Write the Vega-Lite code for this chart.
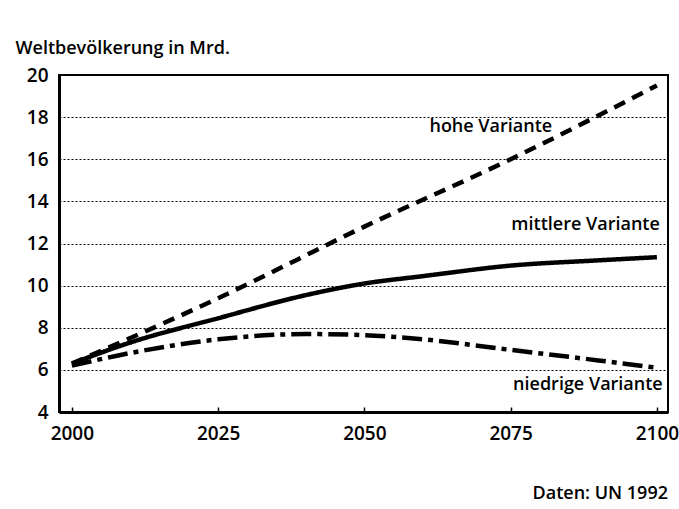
{
  "$schema": "https://vega.github.io/schema/vega-lite/v6.json",
  "width": 609,
  "height": 337,
  "autosize": {"type": "none"},
  "padding": {"left": 59, "top": 75, "right": 11, "bottom": 97},
  "background": "white",
  "config": {
    "font": "Open Sans",
    "view": {"stroke": "black", "strokeWidth": 2},
    "axis": {"labelFont": "Open Sans", "labelFontWeight": 600, "labelFontSize": 19, "labelColor": "black", "domainColor": "black", "domainWidth": 3, "tickColor": "black"}
  },
  "datasets": {
    "lines": [
      {"jahr": 2000, "wert": 6.3, "variante": "hoch"},
      {"jahr": 2025, "wert": 9.4, "variante": "hoch"},
      {"jahr": 2050, "wert": 12.8, "variante": "hoch"},
      {"jahr": 2075, "wert": 16.0, "variante": "hoch"},
      {"jahr": 2100, "wert": 19.5, "variante": "hoch"},
      {"jahr": 2000, "wert": 6.3, "variante": "mittel"},
      {"jahr": 2010, "wert": 7.3, "variante": "mittel"},
      {"jahr": 2025, "wert": 8.45, "variante": "mittel"},
      {"jahr": 2040, "wert": 9.55, "variante": "mittel"},
      {"jahr": 2050, "wert": 10.1, "variante": "mittel"},
      {"jahr": 2060, "wert": 10.45, "variante": "mittel"},
      {"jahr": 2075, "wert": 10.95, "variante": "mittel"},
      {"jahr": 2090, "wert": 11.2, "variante": "mittel"},
      {"jahr": 2100, "wert": 11.35, "variante": "mittel"},
      {"jahr": 2000, "wert": 6.2, "variante": "niedrig"},
      {"jahr": 2010, "wert": 6.8, "variante": "niedrig"},
      {"jahr": 2025, "wert": 7.45, "variante": "niedrig"},
      {"jahr": 2040, "wert": 7.7, "variante": "niedrig"},
      {"jahr": 2050, "wert": 7.65, "variante": "niedrig"},
      {"jahr": 2060, "wert": 7.45, "variante": "niedrig"},
      {"jahr": 2075, "wert": 6.95, "variante": "niedrig"},
      {"jahr": 2090, "wert": 6.45, "variante": "niedrig"},
      {"jahr": 2100, "wert": 6.1, "variante": "niedrig"}
    ],
    "labels": [
      {"jahr": 2082.1, "wert": 17.3, "text": "hohe Variante"},
      {"jahr": 2100.5, "wert": 12.64, "text": "mittlere Variante"},
      {"jahr": 2101, "wert": 5.05, "text": "niedrige Variante"}
    ]
  },
  "title": {
    "text": "Daten: UN 1992",
    "orient": "bottom",
    "anchor": "end",
    "frame": "group",
    "font": "Open Sans",
    "fontWeight": 600,
    "fontSize": 18,
    "color": "black",
    "offset": 42
  },
  "layer": [
    {
      "data": {"name": "lines"},
      "mark": {"type": "line", "color": "black", "strokeWidth": 4.5, "interpolate": "monotone"},
      "encoding": {
        "x": {
          "field": "jahr", "type": "quantitative",
          "scale": {"domain": [1997.8, 2101.9], "nice": false, "zero": false},
          "axis": {"title": null, "values": [2000, 2025, 2050, 2075, 2100], "format": "d", "grid": false, "tickSize": -5, "tickWidth": 1.5, "labelPadding": 17, "labelFlush": false}
        },
        "y": {
          "field": "wert", "type": "quantitative",
          "scale": {"domain": [4, 20], "nice": false, "zero": false},
          "axis": {
            "title": "Weltbevölkerung in Mrd.", "titleAngle": 0, "titleAlign": "left", "titleBaseline": "alphabetic",
            "titleX": -44, "titleY": -22, "titleFont": "Open Sans", "titleFontWeight": 600, "titleFontSize": 18, "titleColor": "black",
            "values": [4, 6, 8, 10, 12, 14, 16, 18, 20], "ticks": false, "labelPadding": 11,
            "grid": true, "gridColor": "black", "gridDash": [2, 2], "gridWidth": 1.2, "gridOpacity": 1
          }
        },
        "detail": {"field": "variante"},
        "strokeDash": {
          "field": "variante", "type": "nominal",
          "scale": {"domain": ["hoch", "mittel", "niedrig"], "range": [[12, 8], [1, 0], [20, 6, 5, 6]]},
          "legend": null
        }
      }
    },
    {
      "data": {"name": "labels"},
      "mark": {"type": "text", "align": "right", "baseline": "alphabetic", "font": "Open Sans", "fontWeight": 600, "fontSize": 18, "color": "black"},
      "encoding": {
        "x": {"field": "jahr", "type": "quantitative"},
        "y": {"field": "wert", "type": "quantitative"},
        "text": {"field": "text"}
      }
    }
  ]
}
